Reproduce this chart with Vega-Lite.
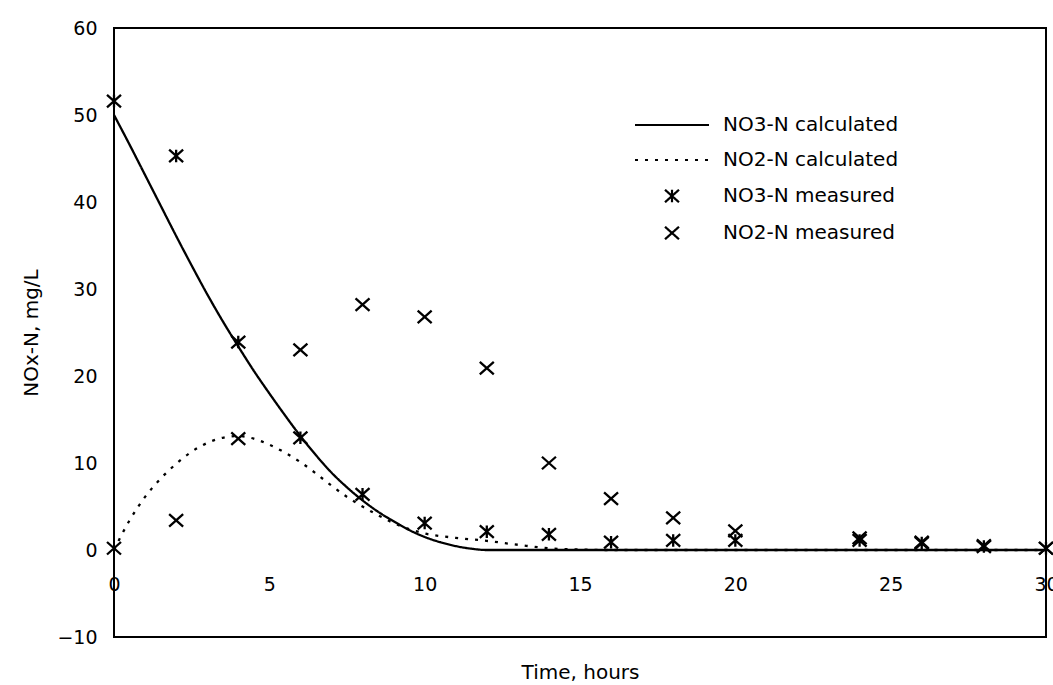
{
  "$schema": "https://vega.github.io/schema/vega-lite/v6.json",
  "width": 932,
  "height": 609,
  "autosize": {"type": "none"},
  "padding": {"left": 114, "top": 28, "right": 7, "bottom": 48},
  "background": "white",
  "config": {
    "view": {"stroke": "black", "strokeWidth": 2},
    "font": "DejaVu Sans",
    "axis": {"grid": false, "domain": false, "ticks": false, "tickSize": 0, "labelColor": "black", "titleColor": "black", "labelFont": "DejaVu Sans", "titleFont": "DejaVu Sans", "titleFontWeight": "normal"},
    "legend": {"labelFont": "DejaVu Sans", "labelColor": "black", "labelLimit": 400}
  },
  "datasets": {
    "calc": [
      {"t": 0, "v": 50, "series": "NO3-N calculated"},
      {"t": 0.5, "v": 46.6, "series": "NO3-N calculated"},
      {"t": 1, "v": 43.1, "series": "NO3-N calculated"},
      {"t": 1.5, "v": 39.6, "series": "NO3-N calculated"},
      {"t": 2, "v": 36.1, "series": "NO3-N calculated"},
      {"t": 2.5, "v": 32.7, "series": "NO3-N calculated"},
      {"t": 3, "v": 29.4, "series": "NO3-N calculated"},
      {"t": 3.5, "v": 26.3, "series": "NO3-N calculated"},
      {"t": 4, "v": 23.4, "series": "NO3-N calculated"},
      {"t": 4.5, "v": 20.6, "series": "NO3-N calculated"},
      {"t": 5, "v": 18.0, "series": "NO3-N calculated"},
      {"t": 5.5, "v": 15.5, "series": "NO3-N calculated"},
      {"t": 6, "v": 13.1, "series": "NO3-N calculated"},
      {"t": 6.5, "v": 10.9, "series": "NO3-N calculated"},
      {"t": 7, "v": 8.9, "series": "NO3-N calculated"},
      {"t": 7.5, "v": 7.2, "series": "NO3-N calculated"},
      {"t": 8, "v": 5.7, "series": "NO3-N calculated"},
      {"t": 8.5, "v": 4.4, "series": "NO3-N calculated"},
      {"t": 9, "v": 3.3, "series": "NO3-N calculated"},
      {"t": 9.5, "v": 2.3, "series": "NO3-N calculated"},
      {"t": 10, "v": 1.5, "series": "NO3-N calculated"},
      {"t": 10.5, "v": 0.9, "series": "NO3-N calculated"},
      {"t": 11, "v": 0.45, "series": "NO3-N calculated"},
      {"t": 11.5, "v": 0.15, "series": "NO3-N calculated"},
      {"t": 12, "v": 0, "series": "NO3-N calculated"},
      {"t": 14, "v": 0, "series": "NO3-N calculated"},
      {"t": 18, "v": 0, "series": "NO3-N calculated"},
      {"t": 24, "v": 0, "series": "NO3-N calculated"},
      {"t": 30, "v": 0, "series": "NO3-N calculated"},
      {"t": 0, "v": 0, "series": "NO2-N calculated"},
      {"t": 0.5, "v": 3.4, "series": "NO2-N calculated"},
      {"t": 1, "v": 6.1, "series": "NO2-N calculated"},
      {"t": 1.5, "v": 8.2, "series": "NO2-N calculated"},
      {"t": 2, "v": 9.9, "series": "NO2-N calculated"},
      {"t": 2.5, "v": 11.3, "series": "NO2-N calculated"},
      {"t": 3, "v": 12.3, "series": "NO2-N calculated"},
      {"t": 3.5, "v": 12.9, "series": "NO2-N calculated"},
      {"t": 4, "v": 13.1, "series": "NO2-N calculated"},
      {"t": 4.5, "v": 12.8, "series": "NO2-N calculated"},
      {"t": 5, "v": 12.1, "series": "NO2-N calculated"},
      {"t": 5.5, "v": 11.2, "series": "NO2-N calculated"},
      {"t": 6, "v": 10.1, "series": "NO2-N calculated"},
      {"t": 6.5, "v": 8.8, "series": "NO2-N calculated"},
      {"t": 7, "v": 7.4, "series": "NO2-N calculated"},
      {"t": 7.5, "v": 6.1, "series": "NO2-N calculated"},
      {"t": 8, "v": 5.0, "series": "NO2-N calculated"},
      {"t": 8.5, "v": 4.0, "series": "NO2-N calculated"},
      {"t": 9, "v": 3.1, "series": "NO2-N calculated"},
      {"t": 9.5, "v": 2.4, "series": "NO2-N calculated"},
      {"t": 10, "v": 1.9, "series": "NO2-N calculated"},
      {"t": 11, "v": 1.4, "series": "NO2-N calculated"},
      {"t": 12, "v": 1.05, "series": "NO2-N calculated"},
      {"t": 13, "v": 0.6, "series": "NO2-N calculated"},
      {"t": 14, "v": 0.2, "series": "NO2-N calculated"},
      {"t": 15, "v": 0.05, "series": "NO2-N calculated"},
      {"t": 16, "v": 0, "series": "NO2-N calculated"},
      {"t": 20, "v": 0, "series": "NO2-N calculated"},
      {"t": 25, "v": 0, "series": "NO2-N calculated"},
      {"t": 30, "v": 0, "series": "NO2-N calculated"}
    ],
    "meas": [
      {"t": 0, "v": 51.6, "series": "NO3-N measured"},
      {"t": 2, "v": 45.3, "series": "NO3-N measured"},
      {"t": 4, "v": 23.9, "series": "NO3-N measured"},
      {"t": 6, "v": 12.9, "series": "NO3-N measured"},
      {"t": 8, "v": 6.4, "series": "NO3-N measured"},
      {"t": 10, "v": 3.1, "series": "NO3-N measured"},
      {"t": 12, "v": 2.1, "series": "NO3-N measured"},
      {"t": 14, "v": 1.8, "series": "NO3-N measured"},
      {"t": 16, "v": 0.9, "series": "NO3-N measured"},
      {"t": 18, "v": 1.1, "series": "NO3-N measured"},
      {"t": 20, "v": 1.1, "series": "NO3-N measured"},
      {"t": 24, "v": 1.1, "series": "NO3-N measured"},
      {"t": 26, "v": 0.8, "series": "NO3-N measured"},
      {"t": 28, "v": 0.4, "series": "NO3-N measured"},
      {"t": 30, "v": 0.2, "series": "NO3-N measured"},
      {"t": 0, "v": 0.2, "series": "NO2-N measured"},
      {"t": 2, "v": 3.4, "series": "NO2-N measured"},
      {"t": 4, "v": 12.8, "series": "NO2-N measured"},
      {"t": 6, "v": 23.0, "series": "NO2-N measured"},
      {"t": 8, "v": 28.2, "series": "NO2-N measured"},
      {"t": 10, "v": 26.8, "series": "NO2-N measured"},
      {"t": 12, "v": 20.9, "series": "NO2-N measured"},
      {"t": 14, "v": 10.0, "series": "NO2-N measured"},
      {"t": 16, "v": 5.9, "series": "NO2-N measured"},
      {"t": 18, "v": 3.7, "series": "NO2-N measured"},
      {"t": 20, "v": 2.2, "series": "NO2-N measured"},
      {"t": 24, "v": 1.4, "series": "NO2-N measured"},
      {"t": 26, "v": 0.9, "series": "NO2-N measured"},
      {"t": 28, "v": 0.5, "series": "NO2-N measured"},
      {"t": 30, "v": 0.2, "series": "NO2-N measured"}
    ]
  },
  "encoding": {
    "x": {
      "field": "t", "type": "quantitative",
      "scale": {"domain": [0, 30], "nice": false, "zero": false},
      "axis": {"title": "Time, hours", "values": [0, 5, 10, 15, 20, 25, 30], "offset": -87, "labelPadding": 25, "labelFontSize": 19, "titleFontSize": 20, "titlePadding": 68, "labelFlush": false}
    },
    "y": {
      "field": "v", "type": "quantitative",
      "scale": {"domain": [-10, 60], "nice": false, "zero": false},
      "axis": {"title": "NOx-N, mg/L", "values": [-10, 0, 10, 20, 30, 40, 50, 60], "labelPadding": 17, "labelFontSize": 19, "titleFontSize": 20, "titlePadding": 15}
    }
  },
  "layer": [
    {
      "data": {"name": "calc"},
      "mark": {"type": "line", "color": "black", "strokeWidth": 2.3, "interpolate": "monotone"},
      "encoding": {
        "strokeDash": {
          "field": "series", "type": "nominal",
          "scale": {"domain": ["NO3-N calculated", "NO2-N calculated", "NO3-N measured", "NO2-N measured"], "range": [[1, 0], [3, 7], [1, 0], [1, 0]]},
          "legend": {"title": null, "orient": "none", "legendX": 548, "legendY": 87, "padding": 0, "labelOffset": 41, "labelFontSize": 20, "labelLimit": 400, "rowPadding": 15, "symbolSize": 100, "symbolStrokeWidth": 2.2, "symbolStrokeColor": "black", "symbolFillColor": "transparent"}
        }
      }
    },
    {
      "data": {"name": "meas"},
      "mark": {"type": "point", "filled": false, "color": "black", "strokeWidth": 2.3, "size": 100, "opacity": 1},
      "encoding": {
        "shape": {
          "field": "series", "type": "nominal",
          "scale": {"domain": ["NO3-N calculated", "NO2-N calculated", "NO3-N measured", "NO2-N measured"], "range": ["M-7.4,0H7.4", "M-7.4,0H7.4", "M-1.4,-1.25L1.4,1.25M-1.4,1.25L1.4,-1.25M0,-1.25V1.25", "M-1.4,-1.25L1.4,1.25M-1.4,1.25L1.4,-1.25"]},
          "legend": {"title": null, "orient": "none", "legendX": 548, "legendY": 87, "padding": 0, "labelOffset": 41, "labelFontSize": 20, "labelLimit": 400, "rowPadding": 15, "symbolSize": 100, "symbolStrokeWidth": 2.2, "symbolStrokeColor": "black", "symbolFillColor": "transparent"}
        }
      }
    }
  ]
}
